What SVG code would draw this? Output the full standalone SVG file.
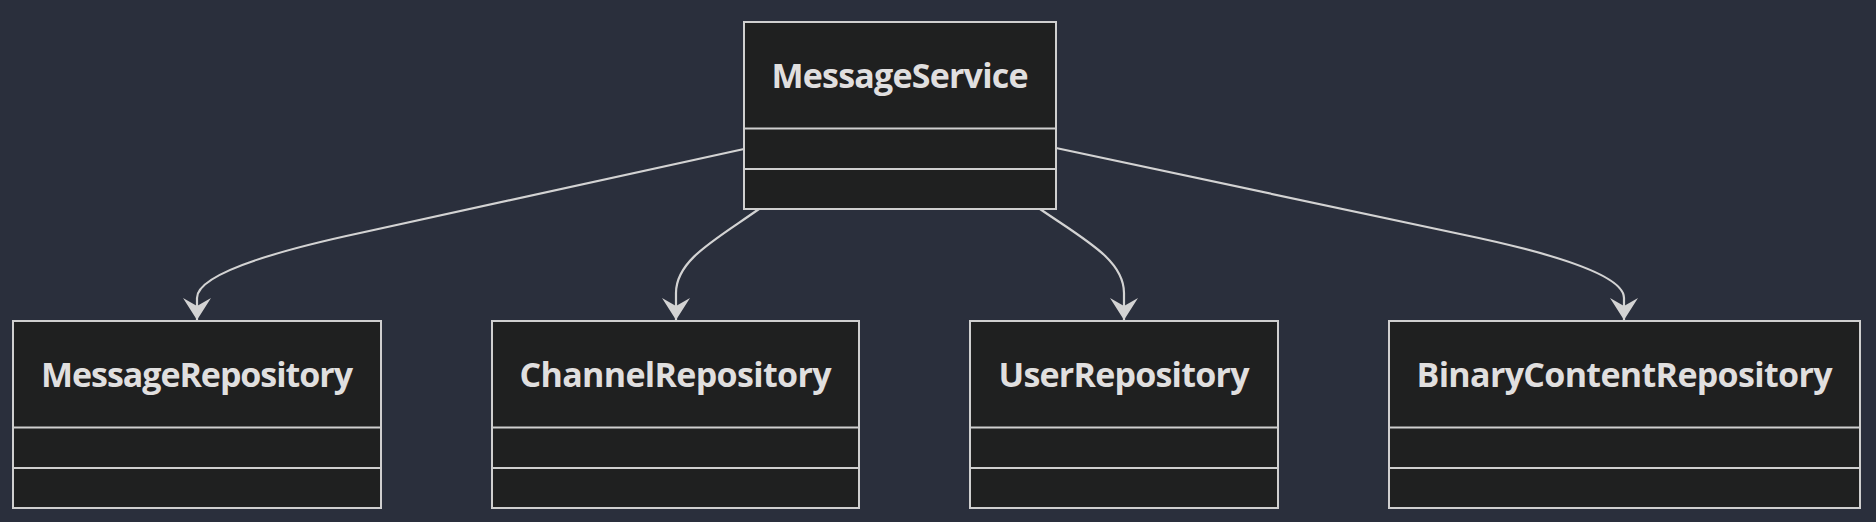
<svg xmlns="http://www.w3.org/2000/svg" width="1876" height="522" viewBox="0 0 1876 522">
<style>
.bg{fill:#2a2f3c}
.box{fill:#1f2020;stroke:#cfcfcf;stroke-width:2}
.div{stroke:#cfcfcf;stroke-width:2}
.lbl{font-family:"Open Sans","Liberation Sans",sans-serif;font-weight:bold;font-size:34px;fill:#e0dfdf;text-anchor:middle}
.edge{fill:none;stroke:#d3d3d3;stroke-width:2.2}
</style>
<defs>
<marker id="dep" viewBox="0 0 22 28" refX="22" refY="14" markerUnits="userSpaceOnUse" markerWidth="22" markerHeight="28" orient="auto">
<path d="M22,14 L0,28 L8,14 L0,0 Z" fill="#d3d3d3"/>
</marker>
</defs>
<rect class="bg" x="0" y="0" width="1876" height="522"/>
<g id="connectors">
<path class="edge" d="M744,149 L360,233 Q197,268 197,298 L197,320" marker-end="url(#dep)"/>
<path class="edge" d="M759,209 C715,240 676,260 676,293 L676,320" marker-end="url(#dep)"/>
<path class="edge" d="M1040,209 C1085,240 1124,260 1124,293 L1124,320" marker-end="url(#dep)"/>
<path class="edge" d="M1056,148 L1460,234 Q1624,268 1624,298 L1624,320" marker-end="url(#dep)"/>
</g>
<g id="MessageService">
<rect class="box" x="744" y="22" width="312" height="187"/>
<line class="div" x1="744" y1="128.5" x2="1056" y2="128.5"/>
<line class="div" x1="744" y1="169" x2="1056" y2="169"/>
<text class="lbl" x="900" y="88" textLength="257">MessageService</text>
</g>
<g id="MessageRepository">
<rect class="box" x="13" y="321" width="368" height="187"/>
<line class="div" x1="13" y1="427.5" x2="381" y2="427.5"/>
<line class="div" x1="13" y1="468" x2="381" y2="468"/>
<text class="lbl" x="197" y="387" textLength="312">MessageRepository</text>
</g>
<g id="ChannelRepository">
<rect class="box" x="492" y="321" width="367" height="187"/>
<line class="div" x1="492" y1="427.5" x2="859" y2="427.5"/>
<line class="div" x1="492" y1="468" x2="859" y2="468"/>
<text class="lbl" x="675.5" y="387" textLength="312">ChannelRepository</text>
</g>
<g id="UserRepository">
<rect class="box" x="970" y="321" width="308" height="187"/>
<line class="div" x1="970" y1="427.5" x2="1278" y2="427.5"/>
<line class="div" x1="970" y1="468" x2="1278" y2="468"/>
<text class="lbl" x="1124" y="387" textLength="251">UserRepository</text>
</g>
<g id="BinaryContentRepository">
<rect class="box" x="1389" y="321" width="471" height="187"/>
<line class="div" x1="1389" y1="427.5" x2="1860" y2="427.5"/>
<line class="div" x1="1389" y1="468" x2="1860" y2="468"/>
<text class="lbl" x="1624.5" y="387" textLength="416">BinaryContentRepository</text>
</g>
</svg>
